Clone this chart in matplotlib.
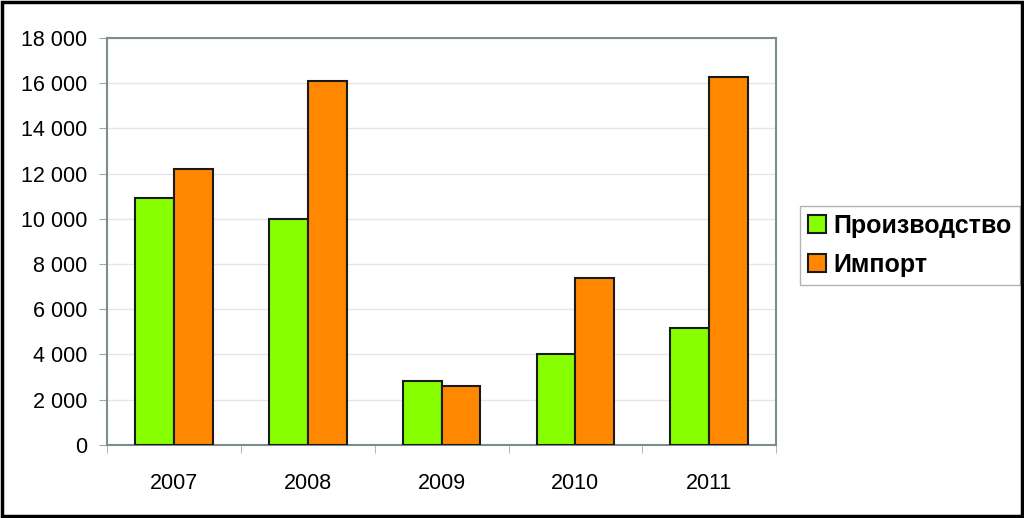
import matplotlib.pyplot as plt
import numpy as np
from matplotlib.patches import Rectangle

years = ['2007', '2008', '2009', '2010', '2011']
production = [10900, 10000, 2830, 4030, 5150]
imports = [12200, 16100, 2600, 7400, 16250]
yticks = np.arange(0, 18001, 2000)

plt.rcParams['font.family'] = ['Liberation Sans', 'DejaVu Sans']

fig = plt.figure(figsize=(10.24, 5.18), dpi=100)
ax = fig.add_axes([0.1045, 0.141, 0.6535, 0.786])

x = np.arange(len(years))
w = 0.29
ax.bar(x - w/2, production, w, color='#88ff00', edgecolor='#1a1a1a', linewidth=1.5,
       label='Производство', zorder=3)
ax.bar(x + w/2, imports, w, color='#ff8800', edgecolor='#1a1a1a', linewidth=1.5,
       label='Импорт', zorder=3)

ax.set_xlim(-0.5, len(years) - 0.5)
ax.set_ylim(0, 18000)
ax.set_yticks(yticks)
ax.set_yticklabels([f'{v:,}'.replace(',', ' ') for v in yticks], fontsize=15.5)
ax.set_xticks(x)
ax.set_xticklabels(years, fontsize=15.5)
ax.set_xticks(np.arange(-0.5, len(years)), minor=True)
ax.tick_params(axis='x', which='major', length=0, pad=20)
ax.tick_params(axis='x', which='minor', length=6, color='#a0a8a8')
ax.tick_params(axis='y', length=6, color='#a0a8a8', pad=8)
ax.grid(axis='y', color='#e6e6e6', linewidth=1, zorder=0)
for s in ax.spines.values():
    s.set_color('#7f8c8c')
    s.set_linewidth(1.5)

leg = ax.legend(loc='center left', bbox_to_anchor=(1.036, 0.49), fancybox=False,
                borderaxespad=0, prop={'size': 18, 'weight': 'bold'},
                handlelength=0.72, handleheight=0.72, handletextpad=0.28,
                borderpad=0.32, labelspacing=0.6)
leg.get_frame().set_edgecolor('#a0a0a0')
leg.get_frame().set_linewidth(1)

fig.patches.append(Rectangle((0.002, 0.003), 0.996, 0.994, transform=fig.transFigure,
                             fill=False, edgecolor='black', linewidth=2.5))

fig.savefig('out.png', dpi=100)
